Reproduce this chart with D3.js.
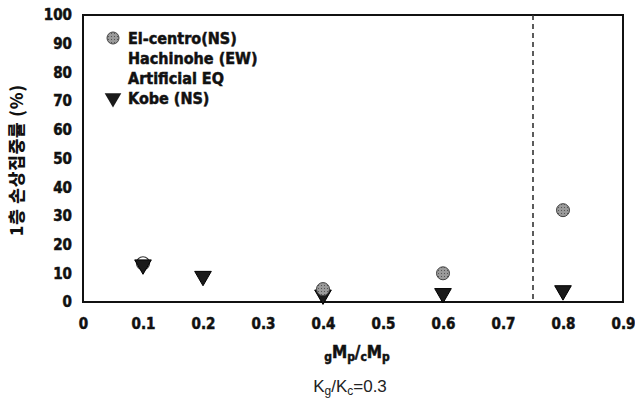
<!DOCTYPE html>
<html>
<head>
<meta charset="utf-8">
<script src="https://cdn.jsdelivr.net/npm/d3@7"></script>
<style>
  html, body { margin: 0; padding: 0; background: #fff; }
  svg { display: block; }
  .tick text { font-family: "DejaVu Sans Condensed", "Liberation Sans", sans-serif; font-weight: bold; font-size: 15px; fill: #111; stroke: #111; stroke-width: 0.5px; }
</style>
</head>
<body>
<script>
// Series: damage concentration of 1st storey vs beam/column plastic moment ratio
const xTicks = [0, 0.1, 0.2, 0.3, 0.4, 0.5, 0.6, 0.7, 0.8, 0.9];
const yTicks = [0, 10, 20, 30, 40, 50, 60, 70, 80, 90, 100];

const elcentroX = [0.4, 0.6, 0.8];
const elcentroY = [4.5, 10, 32];

const hachinoheX = [0.1];
const hachinoheY = [13.5];

const kobeX = [0.1, 0.2, 0.4, 0.6, 0.8];
const kobeY = [13, 9, 2.5, 3, 4];

const limitRatio = 0.75;

const legendNames = ["El-centro(NS)", "Hachinohe (EW)", "Artificial EQ", "Kobe (NS)"];

const W = 635, H = 410;
const margin = { left: 83, right: 12, top: 15, bottom: 108 };

const svg = d3.select("body").append("svg").attr("width", W).attr("height", H);

const x = d3.scaleLinear().domain([0, 0.9]).range([margin.left, W - margin.right]);
const y = d3.scaleLinear().domain([0, 100]).range([H - margin.bottom, margin.top]);

// axes
const xAxis = d3.axisBottom(x).tickValues(xTicks).tickSize(0).tickPadding(16)
  .tickFormat(d => d === 0 ? "0" : d3.format(".1f")(d));
svg.append("g").attr("transform", `translate(0,${y(0)})`).call(xAxis)
  .call(g => g.select(".domain").remove());

const yAxis = d3.axisLeft(y).tickValues(yTicks).tickSize(0).tickPadding(11);
svg.append("g").attr("transform", `translate(${x(0)},0)`).call(yAxis)
  .call(g => g.select(".domain").remove());

// plot frame
svg.append("rect")
  .attr("x", x(0)).attr("y", y(100))
  .attr("width", x(0.9) - x(0)).attr("height", y(0) - y(100))
  .attr("fill", "none").attr("stroke", "#111").attr("stroke-width", 2);

// limit line
svg.append("line")
  .attr("x1", x(limitRatio)).attr("x2", x(limitRatio))
  .attr("y1", y(100)).attr("y2", y(0))
  .attr("stroke", "#333").attr("stroke-width", 1.6).attr("stroke-dasharray", "5,4");

const tri = d3.symbol().type(d3.symbolTriangle).size(120);

// stipple pattern for the circles
const defs = svg.append("defs");
const pat = defs.append("pattern").attr("id", "stip").attr("width", 3).attr("height", 3)
  .attr("patternUnits", "userSpaceOnUse");
pat.append("rect").attr("width", 3).attr("height", 3).attr("fill", "#9a9a9a");
pat.append("rect").attr("width", 1).attr("height", 1).attr("fill", "#555");

// Hachinohe markers (hollow)
svg.append("g").selectAll("circle").data(d3.zip(hachinoheX, hachinoheY)).join("circle")
  .attr("cx", d => x(d[0])).attr("cy", d => y(d[1])).attr("r", 6.5)
  .attr("fill", "#fff").attr("stroke", "#333").attr("stroke-width", 1.2);

// Kobe markers
svg.append("g").selectAll("path").data(d3.zip(kobeX, kobeY)).join("path")
  .attr("transform", d => `translate(${x(d[0])},${y(d[1])}) rotate(180)`)
  .attr("d", tri).attr("fill", "#1a1a1a").attr("stroke", "#000").attr("stroke-width", 1);

// El-centro markers
svg.append("g").selectAll("circle").data(d3.zip(elcentroX, elcentroY)).join("circle")
  .attr("cx", d => x(d[0])).attr("cy", d => y(d[1])).attr("r", 6.5)
  .attr("fill", "url(#stip)").attr("stroke", "#444").attr("stroke-width", 1);

// legend
const legendFont = `"DejaVu Sans Condensed", "Liberation Sans", sans-serif`;
const lg = svg.append("g");
const rowY = d => 38 + d * 20;
legendNames.forEach((name, i) => {
  lg.append("text").attr("x", 128).attr("y", rowY(i)).attr("dy", "0.35em")
    .attr("font-family", legendFont).attr("font-weight", "bold").attr("font-size", 16)
    .attr("stroke", "#111").attr("stroke-width", 0.5)
    .attr("fill", "#111").text(name);
});
lg.append("circle").attr("cx", 113).attr("cy", rowY(0)).attr("r", 6)
  .attr("fill", "url(#stip)").attr("stroke", "#444").attr("stroke-width", 1);
lg.append("path").attr("transform", `translate(113,${rowY(3)}) rotate(180)`)
  .attr("d", tri).attr("fill", "#1a1a1a");

// y axis title
svg.append("text")
  .attr("transform", `translate(17,${160}) rotate(-90)`)
  .attr("text-anchor", "middle").attr("dy", "0.35em")
  .attr("font-family", `"Noto Sans CJK KR", sans-serif`).attr("font-weight", 900)
  .attr("font-size", 17).attr("letter-spacing", 0.8).attr("fill", "#111")
  .text("1층 손상집중률 (%)");

// x axis title: gMp / cMp
const xt = svg.append("text").attr("x", 357).attr("y", 358).attr("text-anchor", "middle")
  .attr("font-family", legendFont).attr("font-weight", "bold").attr("font-size", 17)
  .attr("stroke", "#111").attr("stroke-width", 0.5).attr("fill", "#111");
xt.append("tspan").attr("font-size", 12).attr("dy", 3).text("g");
xt.append("tspan").attr("dy", -3).text("M");
xt.append("tspan").attr("font-size", 12).attr("dy", 3).text("p");
xt.append("tspan").attr("dy", -3).text("/");
xt.append("tspan").attr("font-size", 12).attr("dy", 3).text("c");
xt.append("tspan").attr("dy", -3).text("M");
xt.append("tspan").attr("font-size", 12).attr("dy", 3).text("p");

// caption: Kg/Kc = 0.3
const cap = svg.append("text").attr("x", 350).attr("y", 392).attr("text-anchor", "middle")
  .attr("font-family", `"Liberation Sans", Arial, sans-serif`).attr("font-size", 17).attr("fill", "#222");
cap.append("tspan").text("K");
cap.append("tspan").attr("font-size", 12).attr("dy", 3).text("g");
cap.append("tspan").attr("dy", -3).text("/K");
cap.append("tspan").attr("font-size", 12).attr("dy", 3).text("c");
cap.append("tspan").attr("dy", -3).text("=0.3");
</script>
</body>
</html>
